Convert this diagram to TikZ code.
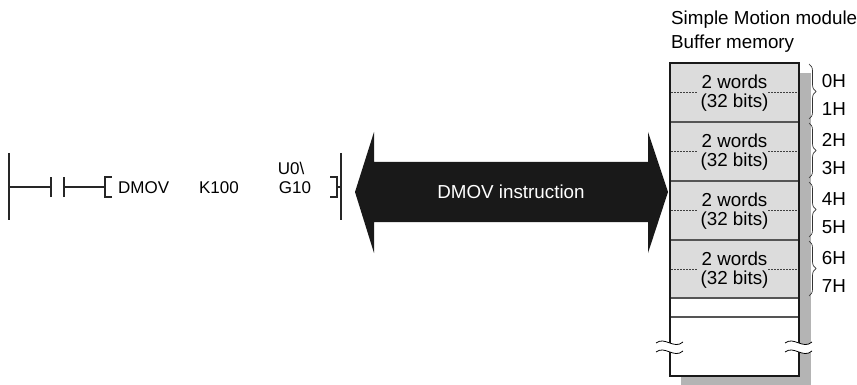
\documentclass[tikz,border=0pt]{standalone}
\usepackage{fontspec}
\setmainfont{Liberation Sans}
\usetikzlibrary{decorations.pathreplacing}
\definecolor{rowgray}{HTML}{DCDCDC}
\definecolor{shadowgray}{HTML}{B4B4B4}
\definecolor{linegray}{HTML}{555555}
\begin{document}
\begin{tikzpicture}[x=1pt,y=-1pt,
  txt/.style={font=\fontsize{17}{19}\selectfont,inner sep=0pt},
  bigtxt/.style={font=\fontsize{18.8}{21}\selectfont,inner sep=0pt},
  ladder/.style={line width=1.3pt,black!85},
  rowline/.style={line width=1.2pt,linegray},
  dotline/.style={line width=0.8pt,black!75,dash pattern=on 1.5pt off 1.5pt},
  bracestyle/.style={line width=0.7pt,black!80,decorate,decoration={brace,amplitude=7pt,aspect=0.5}},
  wave/.style={line width=0.8pt,black}]
\useasboundingbox (0,0) rectangle (857,385);
% ---------- ladder ----------
\coordinate (lrt) at (9,153); \coordinate (lrb) at (9,220);
\coordinate (lmid) at (9,187);
\coordinate (ca) at (51,187); \coordinate (cb) at (64,187);
\coordinate (bl) at (105,187);
\coordinate (br) at (337,187);
\coordinate (rrt) at (341,153); \coordinate (rrb) at (341,220);
\coordinate (rmid) at (341,187);
\draw[ladder] (lrt) -- (lrb);
\draw[ladder] (rrt) -- (rrb);
\draw[ladder] (lmid) -- (ca);
\draw[ladder] ([yshift=-10pt]ca) -- ([yshift=10pt]ca);
\draw[ladder] ([yshift=-10pt]cb) -- ([yshift=10pt]cb);
\draw[ladder] (cb) -- (bl);
\draw[ladder] ([xshift=7pt,yshift=-10pt]bl) -- ([yshift=-10pt]bl) -- ([yshift=10pt]bl) -- ([xshift=7pt,yshift=10pt]bl);
\draw[ladder] ([xshift=-7pt,yshift=-10pt]br) -- ([yshift=-10pt]br) -- ([yshift=10pt]br) -- ([xshift=-7pt,yshift=10pt]br);
\draw[ladder] (br) -- (rmid);
\node[txt,anchor=west] (dmov) at (118,188) {DMOV};
\node[txt] (k100) at (219,188) {K100};
\node[txt] (u0) at (291,168) {U0\textbackslash};
\node[txt] (g10) at (295,188) {G10};
% ---------- double arrow ----------
\fill[black!90] (355,192) -- (374,132) -- (374,162) -- (648,162) -- (648,132) -- (668,192)
  -- (648,253) -- (648,222) -- (374,222) -- (374,253) -- cycle;
\node[bigtxt,text=white] (instr) at (511,192) {DMOV instruction};
% ---------- buffer memory ----------
\node[bigtxt,anchor=west] (title1) at (671,20) {Simple Motion module};
\node[bigtxt,anchor=west] (title2) at (671,44) {Buffer memory};
\fill[shadowgray] (681,73) rectangle (811,385);
\fill[white] (670,63) rectangle (799,376);
\fill[rowgray] (670,63) rectangle (799,298);
\foreach \t/\n in {63/0,122/1,181/2,240/3}{
  \node[bigtxt] (w\n) at (734.5,\t+19) {2 words};
  \node[bigtxt] (b\n) at (734.5,\t+40) {(32 bits)};
  \draw[dotline] (671,\t+29.5) -- (697,\t+29.5);
  \draw[dotline] (768,\t+29.5) -- (798,\t+29.5);
}
\foreach \y in {122,181,240,298,317}{
  \draw[rowline] (670,\y) -- (799,\y);
}
\draw[line width=2pt,black!90] (670,63) rectangle (799,376);
% braces and addresses
\foreach \t/\a/\b in {63/0/1,122/2/3,181/4/5,240/6/7}{
  \draw[bracestyle] (809,\t+1) -- (809,\t+56);
  \node[bigtxt] (h\a) at (834,\t+18) {\a H};
  \node[bigtxt] (h\b) at (834,\t+46) {\b H};
}
% break marks
\foreach \xa in {656,785}{
  \fill[white] (\xa,343) .. controls (\xa+9,336) and (\xa+18,350) .. (\xa+27,342)
    -- (\xa+27,351) .. controls (\xa+18,359) and (\xa+9,345) .. (\xa,352) -- cycle;
  \draw[wave] (\xa,343) .. controls (\xa+9,336) and (\xa+18,350) .. (\xa+27,342);
  \draw[wave] (\xa,352) .. controls (\xa+9,345) and (\xa+18,359) .. (\xa+27,351);
}
\end{tikzpicture}
\end{document}
